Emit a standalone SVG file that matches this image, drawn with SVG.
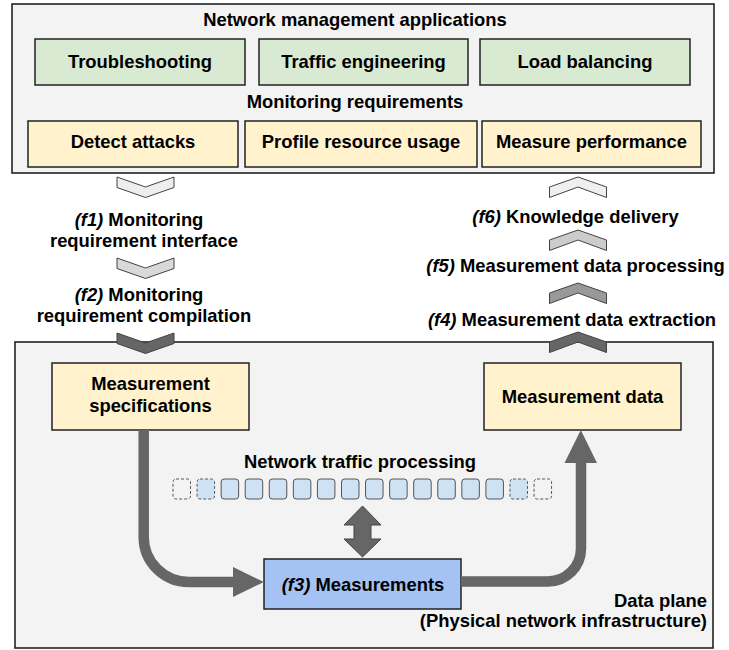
<svg xmlns="http://www.w3.org/2000/svg" width="729" height="650" viewBox="0 0 729 650">
  <style>
    text { font-family: "Liberation Sans", Arial, sans-serif; font-weight: bold; font-size: 18.4px; fill: #000; text-anchor: middle; }
    .it { font-style: italic; }
    .panel { fill: #f3f3f3; stroke: #222; stroke-width: 1.6; }
    .app { fill: #d9ead3; stroke: #222; stroke-width: 1.5; }
    .req { fill: #fff2cc; stroke: #222; stroke-width: 1.5; }
    .meas { fill: #a4c2f4; stroke: #222; stroke-width: 1.5; }
    .chev { stroke: #434343; stroke-width: 1; }
    .flow { fill: none; stroke: #666; stroke-width: 10.5; }
    .head { fill: #666; }
    .pkt { fill: #cfe2f3; stroke: #555; stroke-width: 1; }
    .pkt-d { stroke: #555; stroke-width: 1; stroke-dasharray: 3 2; }
  </style>
  <defs>
    <path id="chev-down" d="M-28.5,0 L0,10 L28.5,0 L28.5,10.5 L0,20.5 L-28.5,10.5 Z"/>
    <path id="chev-up" d="M-28.5,20.5 L-28.5,10 L0,0 L28.5,10 L28.5,20.5 L0,10 Z"/>
    <rect id="pkt" width="17.5" height="20" rx="3" ry="3"/>
  </defs>

  <!-- control plane: applications and their monitoring requirements -->
  <g id="management">
    <rect class="panel" x="12" y="4" width="702" height="169"/>
    <text x="355" y="26">Network management applications</text>
    <text x="355" y="108">Monitoring requirements</text>
  </g>
  <g id="troubleshooting">
    <rect class="app" x="35" y="39" width="210" height="46"/>
    <text x="140" y="68">Troubleshooting</text>
  </g>
  <g id="traffic-engineering">
    <rect class="app" x="259" y="39" width="209" height="46"/>
    <text x="363.5" y="68">Traffic engineering</text>
  </g>
  <g id="load-balancing">
    <rect class="app" x="480" y="39" width="210" height="46"/>
    <text x="585" y="68">Load balancing</text>
  </g>
  <g id="detect-attacks">
    <rect class="req" x="28" y="121" width="210" height="46"/>
    <text x="133" y="148">Detect attacks</text>
  </g>
  <g id="profile-usage">
    <rect class="req" x="245" y="121" width="232" height="46"/>
    <text x="361" y="148">Profile resource usage</text>
  </g>
  <g id="measure-performance">
    <rect class="req" x="482" y="121" width="219" height="46"/>
    <text x="591.5" y="148">Measure performance</text>
  </g>

  <!-- data plane -->
  <g id="data-plane">
    <rect class="panel" x="15" y="342" width="698" height="306"/>
    <text x="707" y="607" style="text-anchor:end">Data plane</text>
    <text x="707" y="627" style="text-anchor:end">(Physical network infrastructure)</text>
  </g>
  <g id="measurement-specifications">
    <rect class="req" x="52" y="363" width="197" height="67"/>
    <text x="150.5" y="390">Measurement</text>
    <text x="150.5" y="412">specifications</text>
  </g>
  <g id="measurement-data">
    <rect class="req" x="484" y="363" width="197" height="67"/>
    <text x="582.5" y="403">Measurement data</text>
  </g>
  <g id="traffic-processing">
    <text x="360" y="468">Network traffic processing</text>
    <use href="#pkt" class="pkt-d" x="173" y="479" fill="none"/>
    <use href="#pkt" class="pkt-d" x="197.07" y="479" fill="#cfe2f3"/>
    <use href="#pkt" class="pkt" x="221.14" y="479"/>
    <use href="#pkt" class="pkt" x="245.21" y="479"/>
    <use href="#pkt" class="pkt" x="269.28" y="479"/>
    <use href="#pkt" class="pkt" x="293.35" y="479"/>
    <use href="#pkt" class="pkt" x="317.42" y="479"/>
    <use href="#pkt" class="pkt" x="341.49" y="479"/>
    <use href="#pkt" class="pkt" x="365.56" y="479"/>
    <use href="#pkt" class="pkt" x="389.63" y="479"/>
    <use href="#pkt" class="pkt" x="413.7" y="479"/>
    <use href="#pkt" class="pkt" x="437.77" y="479"/>
    <use href="#pkt" class="pkt" x="461.84" y="479"/>
    <use href="#pkt" class="pkt" x="485.91" y="479"/>
    <use href="#pkt" class="pkt-d" x="509.98" y="479" fill="#cfe2f3"/>
    <use href="#pkt" class="pkt-d" x="534.05" y="479" fill="none"/>
  </g>
  <g id="measurements">
    <rect class="meas" x="264" y="559" width="197" height="50"/>
    <text x="363" y="591"><tspan class="it">(f3)</tspan> Measurements</text>
  </g>

  <!-- connectors: stage chevrons, flow arrows -->
  <g id="connectors">
    <!-- downward path: requirements to specifications -->
    <use href="#chev-down" class="chev" x="145.5" y="177" fill="#eeeeee"/>
    <use href="#chev-down" class="chev" x="145.5" y="258" fill="#d9d9d9"/>
    <use href="#chev-down" class="chev" x="145.5" y="333" fill="#666666"/>
    <!-- upward path: measurement data to applications -->
    <use href="#chev-up" class="chev" x="578" y="177" fill="#efefef"/>
    <use href="#chev-up" class="chev" x="578" y="230" fill="#cccccc"/>
    <use href="#chev-up" class="chev" x="578" y="283" fill="#999999"/>
    <use href="#chev-up" class="chev" x="578" y="332" fill="#666666"/>

    <!-- specifications feed the measurement stage -->
    <path class="flow" d="M143.7,430 L143.7,537 A45,45 0 0 0 188.7,582 L234,582"/>
    <polygon class="head" points="233,567 264,582 233,597"/>
    <!-- measurement stage produces data -->
    <path class="flow" d="M461,581.5 L548,581.5 A33,33 0 0 0 581,548.5 L581,462"/>
    <polygon class="head" points="564.5,463 580.8,430 597,463"/>
    <!-- exchange between packet processing and measurements -->
    <polygon fill="#666" stroke="#444" stroke-width="1" points="362.5,506 381,525 371,525 371,539 381,539 362.5,557 344,539 354,539 354,525 344,525"/>
  </g>

  <!-- stage labels -->
  <g id="stage-labels">
    <text x="139" y="226"><tspan class="it">(f1)</tspan> Monitoring</text>
    <text x="144" y="247">requirement interface</text>
    <text x="139" y="301"><tspan class="it">(f2)</tspan> Monitoring</text>
    <text x="144" y="322">requirement compilation</text>
    <text x="575.5" y="223"><tspan class="it">(f6)</tspan> Knowledge delivery</text>
    <text x="575.5" y="272"><tspan class="it">(f5)</tspan> Measurement data processing</text>
    <text x="572" y="326"><tspan class="it">(f4)</tspan> Measurement data extraction</text>
  </g>
</svg>
